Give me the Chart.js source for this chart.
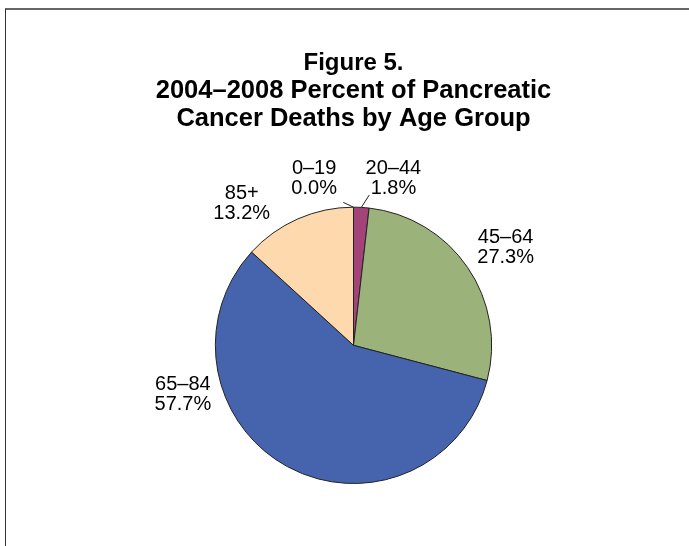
<!DOCTYPE html>
<html>
<head>
<meta charset="utf-8">
<script src="https://cdn.jsdelivr.net/npm/chart.js@4.4.1/dist/chart.umd.min.js"></script>
<style>
    body { margin: 0; background: #fff; }
    .wrap { position: relative; width: 689px; height: 546px; }
    .frame {
        position: absolute; left: 5px; top: 8px; width: 684px; height: 538px;
        border-top: 2px solid #666; border-left: 1px solid #333;
        box-sizing: border-box;
    }
    canvas { position: absolute; left: 0; top: 0; }
</style>
</head>
<body>
<div class="wrap">
    <div class="frame"></div>
    <canvas id="pieChart" width="689" height="546"></canvas>
</div>
<script>
const figureTitle = "Figure 5.";
const subtitleLines = ["2004\u20132008 Percent of Pancreatic", "Cancer Deaths by Age Group"];
const ageGroups = ["0\u201319", "20\u201344", "45\u201364", "65\u201384", "85+"];
const percentDeaths = [0.0, 1.8, 27.3, 57.7, 13.2];
const sliceColors = ["#a4437a", "#a4437a", "#9bb27a", "#4664ae", "#fdd9ad"];

// where each label block sits, in units of the pie radius from its centre
const labelSpots = [
    { dx: -0.285, dy: -1.205, leader: { dx: -0.074, dy: -1.035 } },
    { dx: 0.289, dy: -1.205, leader: { dx: 0.114, dy: -1.088 } },
    { dx: 1.101, dy: -0.711 },
    { dx: -1.235, dy: 0.354 },
    { dx: -0.809, dy: -1.025 }
];

const sliceLabels = {
    id: "sliceLabels",
    afterDatasetsDraw(chart) {
        const { ctx } = chart;
        const arcs = chart.getDatasetMeta(0).data;
        ctx.save();
        ctx.font = "20px 'Liberation Sans', Arial, sans-serif";
        ctx.fillStyle = "#000";
        ctx.textAlign = "center";
        ctx.textBaseline = "middle";
        arcs.forEach((arc, i) => {
            const r = arc.outerRadius;
            const spot = labelSpots[i];
            const lx = arc.x + spot.dx * r;
            const ly = arc.y + spot.dy * r;
            ctx.fillText(ageGroups[i], lx, ly - 10);
            ctx.fillText(percentDeaths[i].toFixed(1) + "%", lx, ly + 10);

            if (spot.leader) {
                const mid = (arc.startAngle + arc.endAngle) / 2;
                ctx.beginPath();
                ctx.strokeStyle = "#222";
                ctx.lineWidth = 1;
                ctx.moveTo(arc.x + Math.cos(mid) * r, arc.y + Math.sin(mid) * r);
                ctx.lineTo(arc.x + spot.leader.dx * r, arc.y + spot.leader.dy * r);
                ctx.stroke();
            }
        });
        ctx.restore();
    }
};

new Chart(document.getElementById("pieChart"), {
    type: "pie",
    data: {
        labels: ageGroups,
        datasets: [{
            data: percentDeaths,
            backgroundColor: sliceColors,
            borderColor: "#222",
            borderWidth: 1
        }]
    },
    options: {
        responsive: false,
        animation: false,
        layout: {
            padding: { top: 50, left: 18, right: 0, bottom: 62 }
        },
        plugins: {
            legend: { display: false },
            tooltip: { enabled: false },
            title: {
                display: true,
                text: figureTitle,
                color: "#000",
                font: { family: "'Liberation Sans', Arial, sans-serif", size: 24, weight: "bold", lineHeight: 1.15 },
                padding: 0
            },
            subtitle: {
                display: true,
                text: subtitleLines,
                color: "#000",
                font: { family: "'Liberation Sans', Arial, sans-serif", size: 25.5, weight: "bold", lineHeight: 1.08 },
                padding: { top: 0, bottom: 74 }
            }
        }
    },
    plugins: [sliceLabels]
});
</script>
</body>
</html>
